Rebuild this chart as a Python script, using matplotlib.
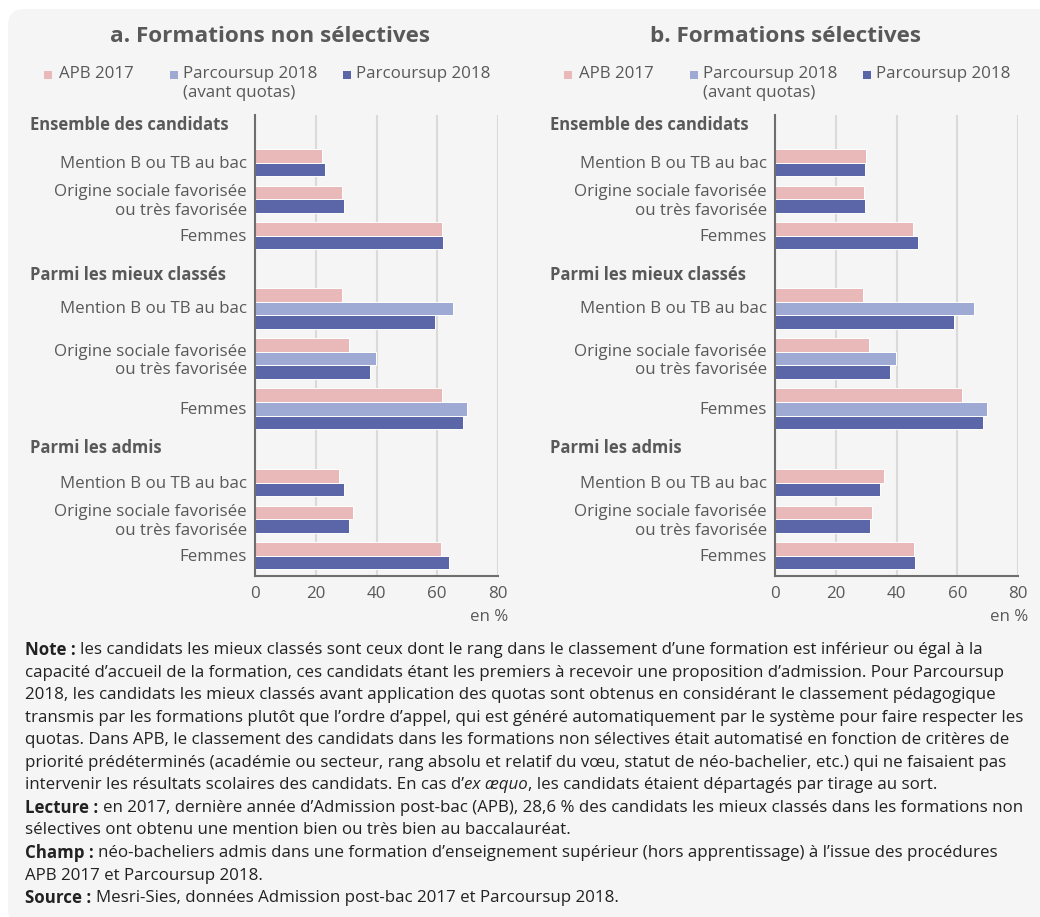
import matplotlib
matplotlib.use("Agg")
import matplotlib.pyplot as plt
from matplotlib.patches import FancyBboxPatch, Rectangle
from matplotlib.transforms import blended_transform_factory

plt.rcParams['font.family'] = ['Open Sans', 'DejaVu Sans']

# ---------------- data ----------------
sections = ["Ensemble des candidats", "Parmi les mieux classés", "Parmi les admis"]
indicators = ["Mention B ou TB au bac", "Origine sociale favorisée\nou très favorisée", "Femmes"]
series_names = ["APB 2017", "Parcoursup 2018\n(avant quotas)", "Parcoursup 2018"]
panel_titles = ["a. Formations non sélectives", "b. Formations sélectives"]

# values per panel: [section][indicator] -> (APB 2017, Parcoursup avant quotas or None, Parcoursup 2018)
non_sel_apb     = [[21.9, 28.8, 61.5], [28.6, 30.8, 61.5], [27.8, 32.1, 61.2]]
non_sel_avant   = [None, [65.3, 39.7, 69.7], None]
non_sel_ps      = [[23.2, 29.2, 61.8], [59.2, 37.7, 68.4], [29.2, 31.1, 63.8]]

sel_apb         = [[30.1, 29.2, 45.4], [28.9, 30.9, 61.6], [35.8, 31.9, 45.7]]
sel_avant       = [None, [65.4, 39.8, 69.8], None]
sel_ps          = [[29.5, 29.5, 47.0], [58.9, 37.8, 68.5], [34.5, 31.2, 46.0]]

x_ticks = [0, 20, 40, 60, 80]
unit_label = "en %"

colors = ["#e9b8b8", "#9eaad3", "#5a66a8"]
text_col = "#595959"

# ---------------- figure ----------------
W, H = 1040, 917
fig = plt.figure(figsize=(W / 100, H / 100), dpi=100)
fig.patch.set_facecolor("white")

def fx(x):
    return x / W

def fy(y):
    return 1 - y / H

bg = FancyBboxPatch((fx(8), fy(925)), fx(1060) - fx(8), fy(9) - fy(925),
                    boxstyle="round,pad=0,rounding_size=0.016",
                    transform=fig.transFigure, facecolor="#f5f5f5",
                    edgecolor="none", zorder=-10, mutation_aspect=W / H)
fig.patches.append(bg)

fs = 12.2

# layout (pixel units)
ax_top, ax_bot = 115, 576
bar_h = 13.6
gap = 9.4
section_first_bar = [149, 288, 469]
section_header_y = [125, 275, 448]

panels = [
    (non_sel_apb, non_sel_avant, non_sel_ps),
    (sel_apb, sel_avant, sel_ps),
]
panel_x0 = [0, 520]

for p, (apb, avant, ps) in enumerate(panels):
    ox = panel_x0[p]
    ax = fig.add_axes([fx(255 + ox), fy(ax_bot), fx(243), ax_bot / H - ax_top / H])
    ax.set_facecolor("none")
    ax.set_xlim(0, 80)
    ax.set_ylim(ax_bot, ax_top)

    centers, labels = [], []
    for s in range(len(sections)):
        y = section_first_bar[s]
        for i in range(len(indicators)):
            vals = [apb[s][i]]
            cols = [colors[0]]
            if avant[s] is not None:
                vals.append(avant[s][i])
                cols.append(colors[1])
            vals.append(ps[s][i])
            cols.append(colors[2])
            top = y
            for v, c in zip(vals, cols):
                ax.barh(y + bar_h / 2, v, height=bar_h, color=c,
                        edgecolor="white", linewidth=0.7, zorder=3)
                y += bar_h
            centers.append((top + y) / 2 - 1)
            labels.append(indicators[i])
            y += gap
        tr = blended_transform_factory(fig.transFigure, ax.transData)
        ax.text(fx(30 + ox), section_header_y[s], sections[s], transform=tr,
                fontsize=12.0, fontweight="bold", color=text_col,
                ha="left", va="center")

    ax.set_yticks(centers)
    ax.set_yticklabels(labels, fontsize=fs, color=text_col)
    ax.tick_params(axis="y", length=0, pad=6)
    ax.set_xticks(x_ticks)
    ax.set_xticklabels([str(t) for t in x_ticks], fontsize=fs, color=text_col)
    ax.tick_params(axis="x", length=0, pad=7)
    ax.grid(axis="x", color="#dadada", linewidth=1.5, zorder=0)
    ax.set_axisbelow(True)
    for side in ["top", "right"]:
        ax.spines[side].set_visible(False)
    for side in ["left", "bottom"]:
        ax.spines[side].set_color("#6e6e6e")
        ax.spines[side].set_linewidth(1.5)
        ax.spines[side].set_zorder(4)
    ax.text(fx(508 + ox), fy(617), unit_label, transform=fig.transFigure,
            fontsize=fs, color=text_col, ha="right", va="center")

    # title
    title_x = [270, 786][p]
    fig.text(fx(title_x), fy(37), panel_titles[p], fontsize=16.2, fontweight="bold",
             color=text_col, ha="center", va="center")

    # legend
    sq_x = [44, 170, 343]
    tx_x = [59, 183, 356]
    for k in range(3):
        fig.patches.append(Rectangle((fx(sq_x[k] + ox), fy(79)), fx(8), 8 / H,
                                     transform=fig.transFigure, facecolor=colors[k],
                                     edgecolor="none"))
        fig.text(fx(tx_x[k] + ox), fy(66), series_names[k], fontsize=fs,
                 color=text_col, ha="left", va="top", linespacing=1.25)

# ---------------- footnotes ----------------
note_lines = [
    [("Note :", "bold", "normal"), (" les candidats les mieux classés sont ceux dont le rang dans le classement d’une formation est inférieur ou égal à la", "normal", "normal")],
    [("capacité d’accueil de la formation, ces candidats étant les premiers à recevoir une proposition d’admission. Pour Parcoursup", "normal", "normal")],
    [("2018, les candidats les mieux classés avant application des quotas sont obtenus en considérant le classement pédagogique", "normal", "normal")],
    [("transmis par les formations plutôt que l’ordre d’appel, qui est généré automatiquement par le système pour faire respecter les", "normal", "normal")],
    [("quotas. Dans APB, le classement des candidats dans les formations non sélectives était automatisé en fonction de critères de", "normal", "normal")],
    [("priorité prédéterminés (académie ou secteur, rang absolu et relatif du vœu, statut de néo-bachelier, etc.) qui ne faisaient pas", "normal", "normal")],
    [("intervenir les résultats scolaires des candidats. En cas d’", "normal", "normal"), ("ex æquo", "normal", "italic"), (", les candidats étaient départagés par tirage au sort.", "normal", "normal")],
    [("Lecture :", "bold", "normal"), (" en 2017, dernière année d’Admission post-bac (APB), 28,6 % des candidats les mieux classés dans les formations non", "normal", "normal")],
    [("sélectives ont obtenu une mention bien ou très bien au baccalauréat.", "normal", "normal")],
    [("Champ :", "bold", "normal"), (" néo-bacheliers admis dans une formation d’enseignement supérieur (hors apprentissage) à l’issue des procédures", "normal", "normal")],
    [("APB 2017 et Parcoursup 2018.", "normal", "normal")],
    [("Source :", "bold", "normal"), (" Mesri-Sies, données Admission post-bac 2017 et Parcoursup 2018.", "normal", "normal")],
]

renderer = fig.canvas.get_renderer()
note_fs = 12.15
note_col = "#222222"

def text_width(s, weight, style):
    t = fig.text(0, 0, s, fontsize=note_fs, fontweight=weight, fontstyle=style)
    w = t.get_window_extent(renderer).width
    t.remove()
    return w

space_w = text_width("a a", "normal", "normal") - text_width("aa", "normal", "normal")

y0, dy = 650, 22.55
for li, segs in enumerate(note_lines):
    x = 25
    y = y0 + li * dy
    for s, weight, style in segs:
        lead = len(s) - len(s.lstrip(" "))
        x += lead * space_w
        s2 = s.lstrip(" ")
        fig.text(fx(x), fy(y), s2, fontsize=note_fs, fontweight=weight,
                 fontstyle=style, color=note_col, ha="left", va="center")
        x += text_width(s2, weight, style)
        trail = len(s2) - len(s2.rstrip(" "))
        x += trail * space_w

fig.savefig("out.png", dpi=100, facecolor=fig.get_facecolor())
